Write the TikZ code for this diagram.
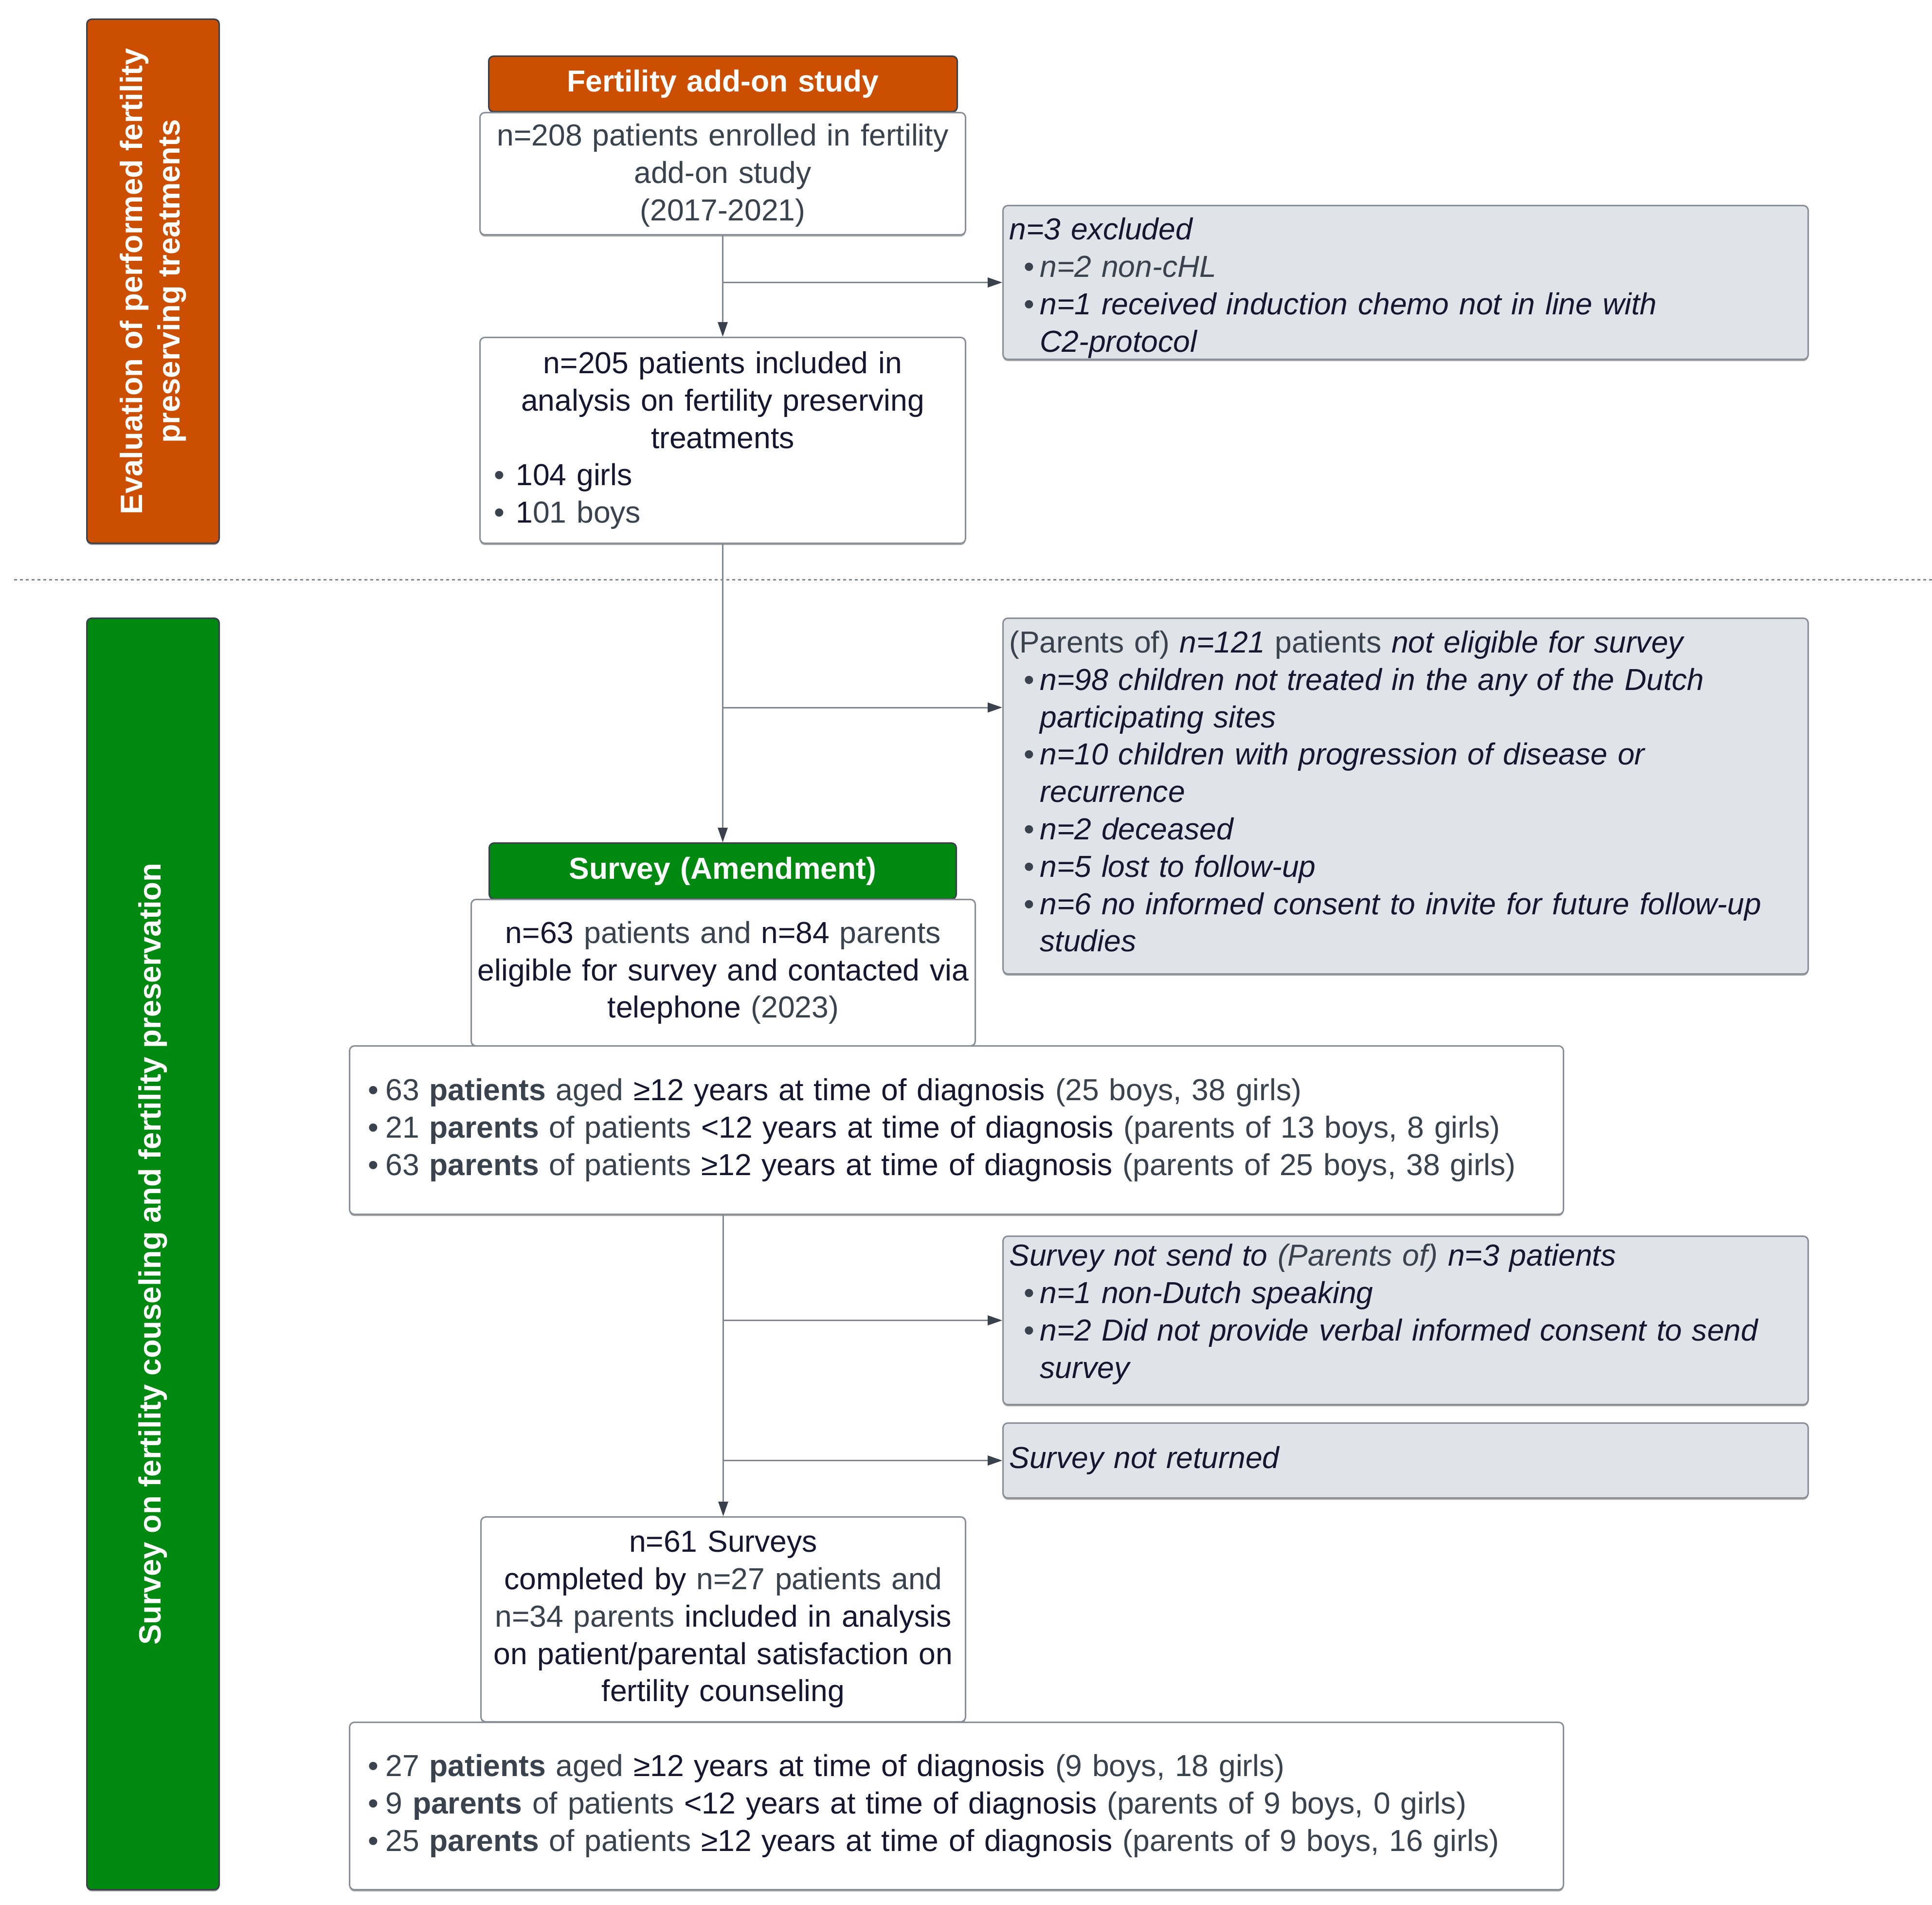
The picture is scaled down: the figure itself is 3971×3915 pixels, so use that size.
\documentclass[tikz,border=0pt]{standalone}
\usepackage{fontspec}
\setmainfont{Liberation Sans}
\usetikzlibrary{arrows.meta,shadows}
\definecolor{orangeC}{RGB}{204,78,0}
\definecolor{greenC}{RGB}{0,137,16}
\definecolor{grayfill}{RGB}{224,227,232}
\definecolor{bordC}{RGB}{138,143,150}
\definecolor{lineC}{RGB}{128,134,142}
\definecolor{headC}{RGB}{58,65,76}
\definecolor{tdark}{RGB}{22,22,48}
\definecolor{tgray}{RGB}{58,66,78}
\newcommand\Gr[1]{{\color{tgray}#1}}
\newcommand\Dk[1]{{\color{tdark}#1}}
\newcommand\Bul[2]{\makebox[#2][l]{\hspace*{#1}{\color{tgray}\upshape •}}}
\begin{document}
\begin{tikzpicture}[x=0.25pt,y=-0.25pt,
  base/.style={draw=bordC, line width=0.75pt, rounded corners=2.5pt, anchor=north west,
    inner sep=0pt, font=\fontsize{15.6pt}{19.2pt}\selectfont,
    drop shadow={shadow xshift=0pt,shadow yshift=-0.9pt,opacity=0.35,fill=black}},
  wbox/.style={base, fill=white, text width=#1, align=center},
  lbox/.style={base, fill=white, text width=#1, align=left, text=tgray},
  gbox/.style={base, fill=grayfill, text width=413.75pt, align=left, text=tdark,
    font=\fontsize{15.6pt}{19.2pt}\selectfont\itshape},
  head/.style={base, draw=headC, text=white, align=center,
    font=\fontsize{15.6pt}{19.2pt}\selectfont\bfseries},
  side/.style={base, draw=headC, minimum width=68pt},
  sidetext/.style={rotate=90, text=white, align=center, inner sep=0pt,
    font=\fontsize{15.85pt}{19.2pt}\selectfont\bfseries},
  conn/.style={draw=lineC, line width=0.75pt, -{Triangle[length=7.5pt,width=5pt,color=headC]}}
]
\fill[white] (0,0) rectangle (3971,3915);
\useasboundingbox (0,0) rectangle (3971,3915);

% side bars
\node[side, fill=orangeC, minimum height=269.25pt] (sideA) at (177,38) {};
\node[sidetext] (sideAt) at (sideA.center) {Evaluation of performed fertility\\preserving treatments};
\node[side, fill=greenC, minimum height=653.25pt] (sideB) at (177,1269) {};
\node[sidetext] (sideBt) at (sideB.center) {Survey on fertility couseling and fertility preservation};

% dotted separator
\coordinate (sepL) at (29,1191);
\coordinate (sepR) at (3971,1191);
\draw[draw=lineC, line width=0.75pt, dash pattern=on 1.5pt off 1.5pt] (sepL) -- (sepR);

% first part
\node[head, fill=orangeC, text width=240.75pt, minimum height=28.5pt] (headA) at (1003,114) {Fertility add-on study};
\node[wbox=249.5pt, minimum height=62.75pt, text=tgray] (boxA) at (985,230)
  {\rule{0pt}{13pt}n=208 patients enrolled in fertility\\add-on study\\(2017-2021)};
\node[wbox=249.5pt, minimum height=105.75pt, text=tdark] (boxB) at (985,692)
  {n=205 patients included in\\analysis on fertility preserving\\treatments\\
   \makebox[\hsize][l]{\Bul{7.25pt}{18.5pt}104 girls}\\
   \makebox[\hsize][l]{\Bul{7.25pt}{18.5pt}1\Gr{01 boys}}};
\node[gbox, minimum height=79pt] (excl) at (2060,421)
  {\hspace*{3.25pt}\rule{0pt}{17pt}n=3 excluded\\
   \Bul{10.75pt}{19pt}\Gr{n=2 non-cHL}\\
   \Bul{10.75pt}{19pt}n=1 received induction chemo not in line with\\
   \hspace*{19pt}C2-protocol};

% second part
\node[gbox, minimum height=182.75pt] (noel) at (2060,1269)
  {\hspace*{3.25pt}\Gr{\upshape(Parents of)} n=121 \Gr{\upshape patients} not eligible for survey\\
   \Bul{10.75pt}{19pt}n=98 children not treated in the any of the Dutch\\
   \hspace*{19pt}participating sites\\
   \Bul{10.75pt}{19pt}n=10 children with progression of disease or\\
   \hspace*{19pt}recurrence\\
   \Bul{10.75pt}{19pt}n=2 deceased\\
   \Bul{10.75pt}{19pt}n=5 lost to follow-up\\
   \Bul{10.75pt}{19pt}n=6 no informed consent to invite for future follow-up\\
   \hspace*{19pt}studies\rule[-5pt]{0pt}{5pt}};
\node[head, fill=greenC, text width=240pt, minimum height=28.75pt] (headB) at (1004,1731) {Survey (Amendment)};
\node[wbox=259pt, minimum height=75.25pt, text=tdark] (boxC) at (967,1847)
  {n=63 \Gr{patients and} n=84 \Gr{parents}\\eligible for survey and contacted via\\telephone \Gr{(2023)}};
\node[lbox=623.75pt, minimum height=86.5pt] (wideA) at (717,2148)
  {\Bul{9.5pt}{18.5pt}63 \textbf{patients} aged \Dk{≥12 years at time of diagnosis} (25 boys, 38 girls)\\
   \Bul{9.5pt}{18.5pt}21 \textbf{parents} of patients \Dk{<12 years at time of diagnosis} (parents of 13 boys, 8 girls)\\
   \Bul{9.5pt}{18.5pt}63 \textbf{parents} of patients \Dk{≥12 years at time of diagnosis} (parents of 25 boys, 38 girls)};
\node[gbox, minimum height=86.5pt] (notsend) at (2060,2539)
  {\hspace*{3.25pt}Survey not send to \Gr{(Parents of)} n=3 patients\\
   \Bul{10.75pt}{19pt}n=1 non-Dutch speaking\\
   \Bul{10.75pt}{19pt}n=2 Did not provide verbal informed consent to send\\
   \hspace*{19pt}survey\rule[-9.5pt]{0pt}{1pt}};
\node[gbox, minimum height=38.5pt] (notret) at (2060,2923)
  {\hspace*{3.25pt}Survey not returned};
\node[wbox=249pt, minimum height=105.25pt, text=tdark] (boxD) at (987,3116)
  {n=61 Surveys\\completed by \Gr{n=27 patients and}\\\Gr{n=34 parents} included in analysis\\on patient/parental satisfaction on\\fertility counseling};
\node[lbox=623.75pt, minimum height=86pt] (wideB) at (717,3538)
  {\Bul{9.5pt}{18.5pt}27 \textbf{patients} aged \Dk{≥12 years at time of diagnosis} (9 boys, 18 girls)\\
   \Bul{9.5pt}{18.5pt}9 \textbf{parents} of patients \Dk{<12 years at time of diagnosis} (parents of 9 boys, 0 girls)\\
   \Bul{9.5pt}{18.5pt}25 \textbf{parents} of patients \Dk{≥12 years at time of diagnosis} (parents of 9 boys, 16 girls)};

% connectors
\draw[conn] (boxA.south) -- (boxB.north);
\coordinate (jA) at (boxA.south |- excl.west);
\draw[conn] (jA) -- (excl.west);
\draw[conn] (boxB.south) -- (headB.north);
\coordinate (jB) at (1484,1454);
\draw[conn] (jB) -- (jB -| noel.west);
\coordinate (jC) at (boxD.north |- wideA.south);
\draw[conn] (jC) -- (boxD.north);
\coordinate (jD) at (jC |- notsend.west);
\draw[conn] (jD) -- (notsend.west);
\coordinate (jE) at (jC |- notret.west);
\draw[conn] (jE) -- (notret.west);
\end{tikzpicture}
\end{document}
